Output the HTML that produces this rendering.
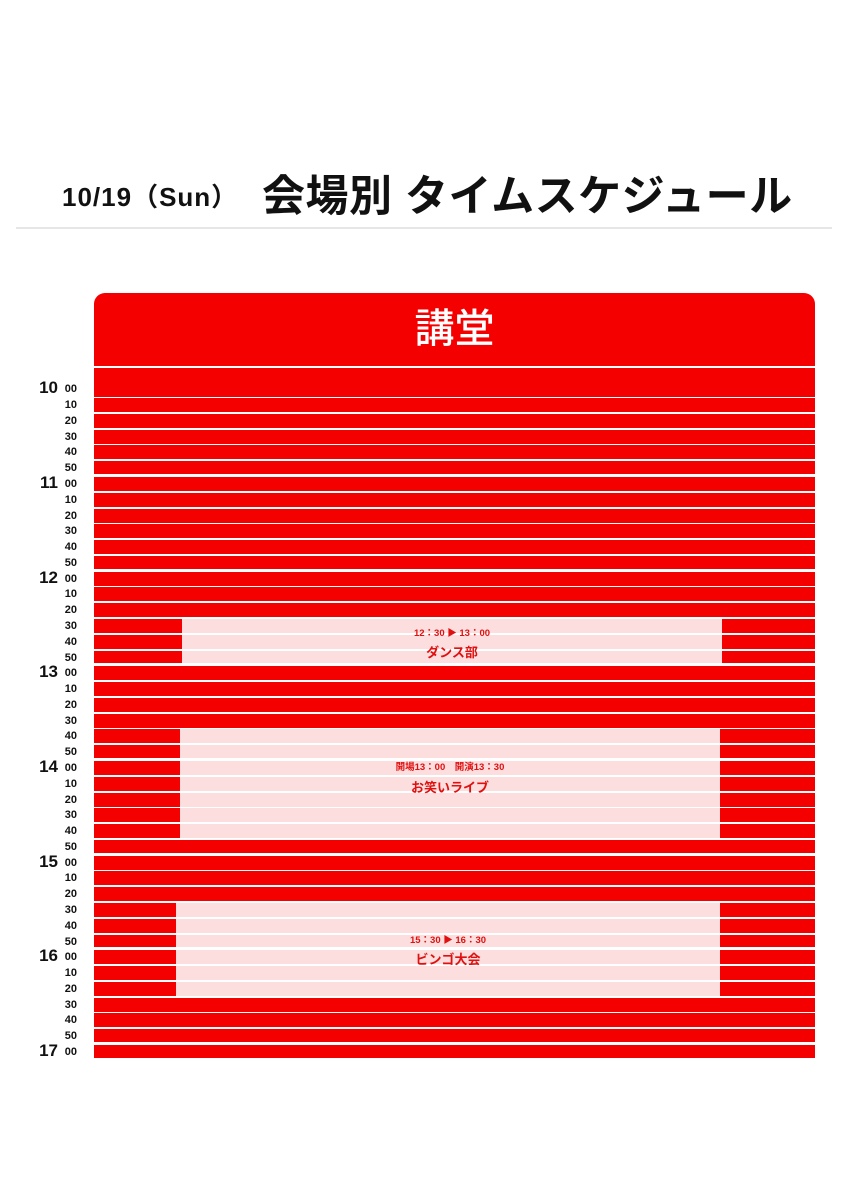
<!DOCTYPE html>
<html><head><meta charset="utf-8"><style>
body{margin:0;width:849px;height:1200px;background:#fff;position:relative;overflow:hidden;font-family:"Liberation Sans","Noto Sans CJK JP",sans-serif}
.t1{position:absolute;left:62px;top:177px;font-size:26px;font-weight:bold;color:#111;letter-spacing:1px}
.t2{position:absolute;left:262px;top:162px;font-size:43px;font-weight:bold;color:#111;letter-spacing:0.5px}
.hr{position:absolute;left:16px;top:227px;width:816px;height:2px;background:#e6e6e6}
.head{position:absolute;left:94px;top:293px;width:721px;height:73px;background:#f50000;border-radius:11px 11px 0 0;color:#fff;font-size:40px;text-align:center;line-height:72px;font-weight:500}
.r{position:absolute;left:94px;width:721px;height:14px;background:#f50000}
.k{height:12.8px}
.e1{background:linear-gradient(to right,#f50000 0,#f50000 88px,#fcdede 88px,#fcdede 628px,#f50000 628px)}
.e2{background:linear-gradient(to right,#f50000 0,#f50000 86px,#fcdede 86px,#fcdede 626px,#f50000 626px)}
.e3{background:linear-gradient(to right,#f50000 0,#f50000 82px,#fcdede 82px,#fcdede 626px,#f50000 626px)}
.l{position:absolute;height:16px;line-height:16px;font-weight:bold;color:#111}
.m{left:50px;width:27px;text-align:right;font-size:11px}
.h{left:20px;width:38px;text-align:right;font-size:17px}
.ev{position:absolute;color:#e01010;font-weight:bold;text-align:center;width:540px}
.et{font-size:9.5px}
.en{font-size:13px}
</style></head><body>
<div class="t1">10/19（Sun）</div>
<div class="t2">会場別 タイムスケジュール</div>
<div class="hr"></div>
<div class="head">講堂</div>

<div class="r" style="top:368px;height:29px"></div>
<div class="r" style="top:398px"></div>
<div class="r" style="top:413.8px"></div>
<div class="r" style="top:429.6px"></div>
<div class="r" style="top:445.3px"></div>
<div class="r k" style="top:461.1px"></div>
<div class="r" style="top:476.9px"></div>
<div class="r" style="top:492.7px"></div>
<div class="r" style="top:508.5px"></div>
<div class="r" style="top:524.2px"></div>
<div class="r" style="top:540px"></div>
<div class="r k" style="top:555.8px"></div>
<div class="r" style="top:571.6px"></div>
<div class="r" style="top:587.4px"></div>
<div class="r" style="top:603.1px"></div>
<div class="r e1" style="top:618.9px"></div>
<div class="r e1" style="top:634.7px"></div>
<div class="r e1 k" style="top:650.5px"></div>
<div class="r" style="top:666.3px"></div>
<div class="r" style="top:682px"></div>
<div class="r" style="top:697.8px"></div>
<div class="r" style="top:713.6px"></div>
<div class="r e2" style="top:729.4px"></div>
<div class="r e2 k" style="top:745.2px"></div>
<div class="r e2" style="top:760.9px"></div>
<div class="r e2" style="top:776.7px"></div>
<div class="r e2" style="top:792.5px"></div>
<div class="r e2" style="top:808.3px"></div>
<div class="r e2" style="top:824.1px"></div>
<div class="r k" style="top:839.8px"></div>
<div class="r" style="top:855.6px"></div>
<div class="r" style="top:871.4px"></div>
<div class="r" style="top:887.2px"></div>
<div class="r e3" style="top:903px"></div>
<div class="r e3" style="top:918.7px"></div>
<div class="r e3 k" style="top:934.5px"></div>
<div class="r e3" style="top:950.3px"></div>
<div class="r e3" style="top:966.1px"></div>
<div class="r e3" style="top:981.9px"></div>
<div class="r" style="top:997.6px"></div>
<div class="r" style="top:1013.4px"></div>
<div class="r k" style="top:1029.2px"></div>
<div class="r" style="top:1045px;height:13px"></div>

<div class="l h" style="top:380px">10</div><div class="l m" style="top:381px">00</div>
<div class="l m" style="top:397px">10</div>
<div class="l m" style="top:413px">20</div>
<div class="l m" style="top:429px">30</div>
<div class="l m" style="top:444px">40</div>
<div class="l m" style="top:460px">50</div>
<div class="l h" style="top:475px">11</div><div class="l m" style="top:476px">00</div>
<div class="l m" style="top:492px">10</div>
<div class="l m" style="top:508px">20</div>
<div class="l m" style="top:523px">30</div>
<div class="l m" style="top:539px">40</div>
<div class="l m" style="top:555px">50</div>
<div class="l h" style="top:570px">12</div><div class="l m" style="top:571px">00</div>
<div class="l m" style="top:586px">10</div>
<div class="l m" style="top:602px">20</div>
<div class="l m" style="top:618px">30</div>
<div class="l m" style="top:634px">40</div>
<div class="l m" style="top:650px">50</div>
<div class="l h" style="top:664px">13</div><div class="l m" style="top:665px">00</div>
<div class="l m" style="top:681px">10</div>
<div class="l m" style="top:697px">20</div>
<div class="l m" style="top:713px">30</div>
<div class="l m" style="top:728px">40</div>
<div class="l m" style="top:744px">50</div>
<div class="l h" style="top:759px">14</div><div class="l m" style="top:760px">00</div>
<div class="l m" style="top:776px">10</div>
<div class="l m" style="top:792px">20</div>
<div class="l m" style="top:807px">30</div>
<div class="l m" style="top:823px">40</div>
<div class="l m" style="top:839px">50</div>
<div class="l h" style="top:854px">15</div><div class="l m" style="top:855px">00</div>
<div class="l m" style="top:870px">10</div>
<div class="l m" style="top:886px">20</div>
<div class="l m" style="top:902px">30</div>
<div class="l m" style="top:918px">40</div>
<div class="l m" style="top:934px">50</div>
<div class="l h" style="top:948px">16</div><div class="l m" style="top:949px">00</div>
<div class="l m" style="top:965px">10</div>
<div class="l m" style="top:981px">20</div>
<div class="l m" style="top:997px">30</div>
<div class="l m" style="top:1012px">40</div>
<div class="l m" style="top:1028px">50</div>
<div class="l h" style="top:1043px">17</div><div class="l m" style="top:1044px">00</div>

<div class="ev et" style="left:182px;top:625px">12：30 ▶ 13：00</div>
<div class="ev en" style="left:182px;top:642px">ダンス部</div>
<div class="ev et" style="left:180px;top:759px">開場13：00　開演13：30</div>
<div class="ev en" style="left:180px;top:777px">お笑いライブ</div>
<div class="ev et" style="left:178px;top:932px">15：30 ▶ 16：30</div>
<div class="ev en" style="left:178px;top:949px">ビンゴ大会</div>
</body></html>
